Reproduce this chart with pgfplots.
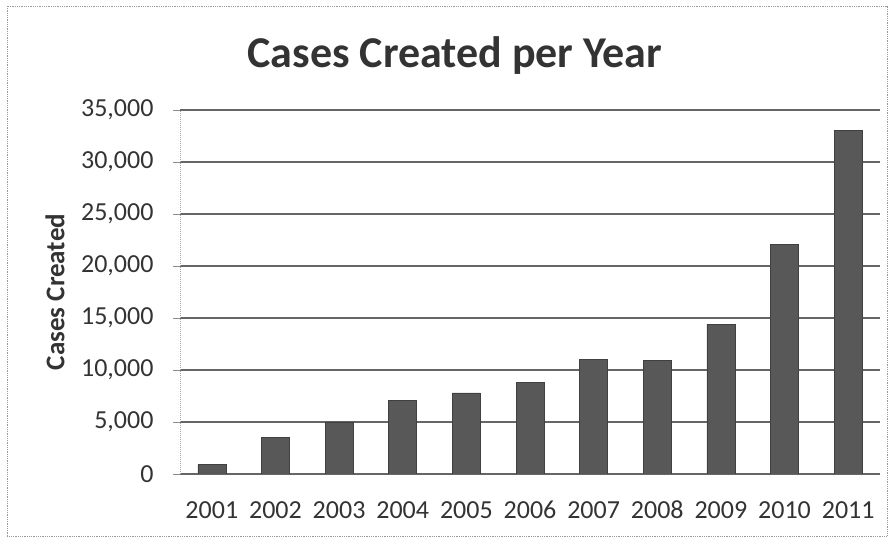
\documentclass[border=0pt]{standalone}
\usepackage{pgfplots}
\pgfplotsset{compat=1.18}
\usepackage{fontspec}
\setmainfont{Carlito}

\definecolor{txt}{HTML}{333333}
\definecolor{gridc}{HTML}{666666}
\definecolor{barc}{HTML}{585858}

\begin{document}
\begin{tikzpicture}
\path[use as bounding box] (0pt,0pt) rectangle (891pt,540pt);
\draw[black!40, densely dotted, line width=0.8pt] (7pt,4pt) rectangle (887pt,534pt);
\node[text=txt, font=\fontsize{44}{50}\selectfont\bfseries] at (455pt,484pt) {Cases Created per Year};
\begin{axis}[
  at={(180pt,66pt)}, anchor=south west,
  scale only axis, width=700pt, height=364pt,
  ybar, bar width=28pt,
  xmin=-0.5, xmax=10.5, ymin=0, ymax=35000,
  xtick={0,...,10},
  xticklabels={2001,2002,2003,2004,2005,2006,2007,2008,2009,2010,2011},
  minor xtick={-0.5,0.5,...,10.5},
  ytick={0,5000,...,35000},
  scaled y ticks=false,
  /pgf/number format/.cd, fixed, 1000 sep={,}, assume math mode=true,
  /pgfplots/.cd,
  axis x line*=bottom, axis y line*=left,
  x axis line style={gridc, line width=1.4pt},
  y axis line style={black!35, densely dotted, line width=1pt},
  ymajorgrids,
  major grid style={gridc, line width=1.3pt},
  tick align=outside,
  major tick length=7pt, minor tick length=6pt,
  xtick style={draw=none},
  minor x tick style={black!45, line width=0.8pt},
  ytick style={black!45, line width=0.8pt},
  tick label style={text=txt, font=\fontsize{26}{30}\selectfont},
  yticklabel style={xshift=-16pt},
  xticklabel style={yshift=-16pt, text height=18pt, text depth=0pt},
  ylabel={Cases Created},
  ylabel style={text=txt, font=\fontsize{27}{30}\selectfont\bfseries, at={(axis description cs:0,0.5)}, yshift=112pt},
]
\addplot[draw=black!75, fill=barc, line width=0.6pt, bar shift=0pt] coordinates {
  (0,900) (1,3500) (2,5000) (3,7050) (4,7800) (5,8800)
  (6,11050) (7,10950) (8,14400) (9,22100) (10,33000)
};
\end{axis}
\end{tikzpicture}
\end{document}
